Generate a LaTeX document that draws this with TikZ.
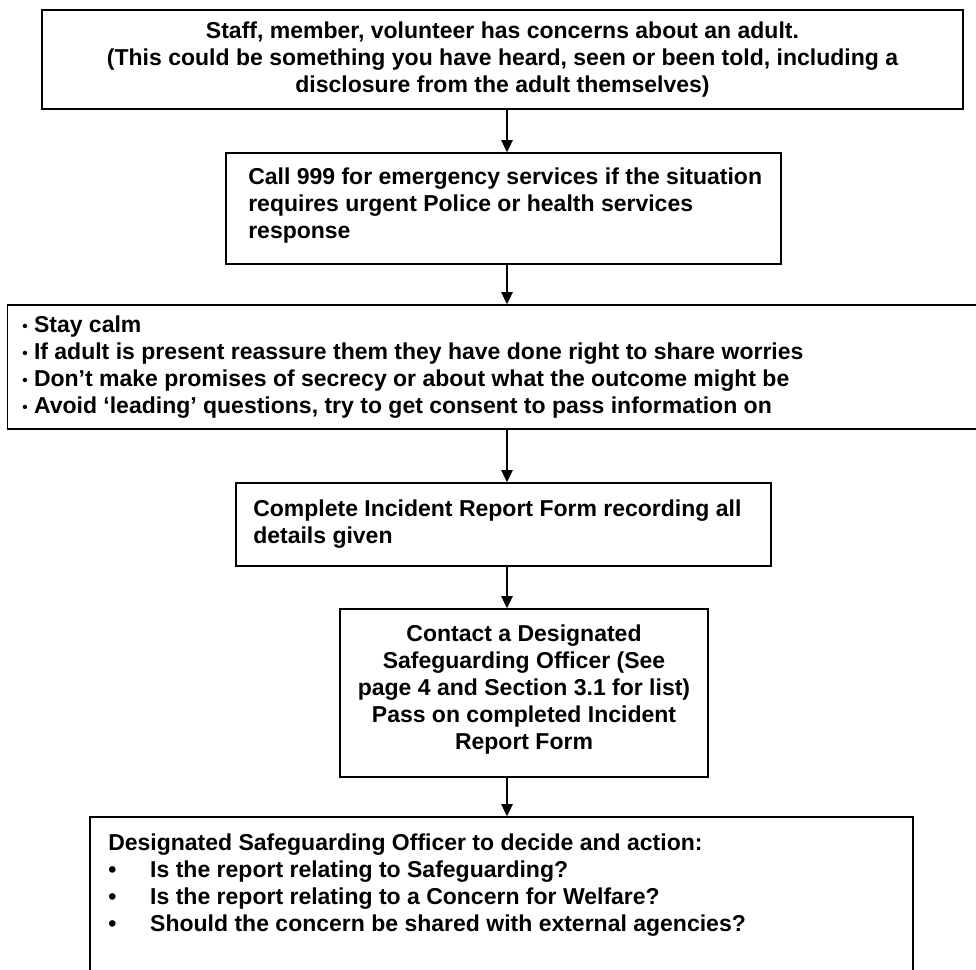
\documentclass[tikz,border=0pt]{standalone}
\usepackage{fontspec}
\setmainfont{Liberation Sans}
\usetikzlibrary{arrows.meta,fit}
\newcommand{\calmbullet}{\raisebox{1.3pt}{\fontsize{11.5}{11.5}\selectfont •}}

\begin{document}
\begin{tikzpicture}[x=0.75pt,y=-0.75pt,
  box/.style={draw,line width=1.2pt,inner sep=0pt},
  txt/.style={inner sep=0pt,font=\bfseries\fontsize{17.25}{20.25}\selectfont},
  arr/.style={line width=1.1pt,-{Triangle[length=9pt,width=8.5pt]}}]
\useasboundingbox (0,0) rectangle (976,970);
\clip (0,0) rectangle (976,970);
\coordinate (spine) at (507,0);
% boxes
\node[box,fit={(42,10) (963,109)}] (concern) {};
\node[box,fit={(226,153) (781,264)}] (call) {};
\node[box,fit={(7.5,305) (995,429)}] (calm) {};
\node[box,fit={(236,483) (771,566)}] (form) {};
\node[box,fit={(340,609) (708,777)}] (contact) {};
\node[box,fit={(90,817) (913,995)}] (decide) {};
% texts
\node[txt,align=center,anchor=north] (concern-t) at (502.5,22) {Staff, member, volunteer has concerns about an adult.\\
(This could be something you have heard, seen or been told, including a\\
disclosure from the adult themselves)};
\node[txt,align=left,anchor=north west] (call-t) at (248,168) {Call 999 for emergency services if the situation\\
requires urgent Police or health services\\
response};
\node[txt,align=left,anchor=north west] (calm-t) at (22,316) {\calmbullet\ Stay calm\\
\calmbullet\ If adult is present reassure them they have done right to share worries\\
\calmbullet\ Don’t make promises of secrecy or about what the outcome might be\\
\calmbullet\ Avoid ‘leading’ questions, try to get consent to pass information on};
\node[txt,align=left,anchor=north west] (form-t) at (253,500) {Complete Incident Report Form recording all\\
details given};
\node[txt,align=center,anchor=north] (contact-t) at (524,625) {Contact a Designated\\
Safeguarding Officer (See\\
page 4 and Section 3.1 for list)\\
Pass on completed Incident\\
Report Form};
\node[txt,align=left,anchor=north west] (decide-t) at (108,834) {Designated Safeguarding Officer to decide and action:\\
\makebox[31.5pt][l]{•}Is the report relating to Safeguarding?\\
\makebox[31.5pt][l]{•}Is the report relating to a Concern for Welfare?\\
\makebox[31.5pt][l]{•}Should the concern be shared with external agencies?};
% arrows
\draw[arr] (concern.south -| spine) -- (call.north -| spine);
\draw[arr] (call.south -| spine) -- (calm.north -| spine);
\draw[arr] (calm.south -| spine) -- (form.north -| spine);
\draw[arr] (form.south -| spine) -- (contact.north -| spine);
\draw[arr] (contact.south -| spine) -- (decide.north -| spine);
\end{tikzpicture}
\end{document}
